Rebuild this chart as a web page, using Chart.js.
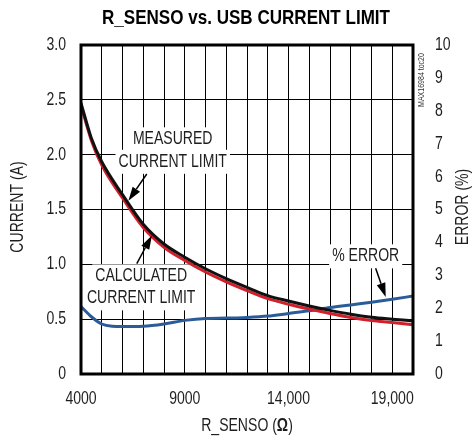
<!DOCTYPE html>
<html>
<head>
<meta charset="utf-8">
<script src="https://cdn.jsdelivr.net/npm/chart.js@4.4.1/dist/chart.umd.min.js"></script>
<style>
  html, body { margin: 0; padding: 0; background: #fff; }
  #wrap { width: 474px; height: 439px; }
</style>
</head>
<body>
<div id="wrap"><canvas id="chart" width="474" height="439"></canvas></div>
<script>
// values
const rSense = [4000, 4500, 5000, 6000, 7000, 8000, 9000, 10000, 11000, 12000,
    13000, 14000, 15000, 16000, 17000, 18000, 19000, 20000];
const measuredCurrent = [2.47, 2.15, 1.935, 1.635, 1.365, 1.185, 1.065, 0.96, 0.87, 0.79,
    0.715, 0.665, 0.62, 0.58, 0.545, 0.518, 0.50, 0.484];
const calculatedCurrent = [2.45, 2.13, 1.905, 1.605, 1.335, 1.155, 1.035, 0.93, 0.84, 0.76,
    0.687, 0.636, 0.592, 0.552, 0.516, 0.488, 0.47, 0.45];

const errorRsense = [4000, 4500, 5000, 5500, 6000, 7000, 8000, 9000, 10000, 11000, 12000,
    13000, 14000, 15000, 16000, 17000, 18000, 19000, 20000];
const errorPercent = [2.05, 1.74, 1.52, 1.45, 1.44, 1.45, 1.52, 1.63, 1.69, 1.70, 1.72,
    1.76, 1.84, 1.92, 2.02, 2.10, 2.18, 2.27, 2.37];

const xTickLabels = {4000: "4000", 9000: "9000", 14000: "14,000", 19000: "19,000"};

// condensed look: Liberation Sans squeezed horizontally
const FONT = '"Liberation Sans", Arial, sans-serif';
const SQUEEZE = 0.78;
const INK = "#1e1e1e";

// callouts, placed in data units (x = ohms, y = amps)
const callouts = [
    {lines: ["MEASURED", "CURRENT LIMIT"], x: 8420, y: [2.14, 1.935],
     arrow: {from: [7170, 1.824], to: [6285, 1.58]}},
    {lines: ["CALCULATED", "CURRENT LIMIT"], x: 6900, y: [0.89, 0.69],
     arrow: {from: [6690, 1.006], to: [7415, 1.264]}},
    {lines: ["% ERROR"], x: 17720, y: [1.073],
     arrow: {from: [18200, 0.964], to: [18685, 0.703]}}
];

const toPts = (xs, ys) => xs.map((x, i) => ({x, y: ys[i]}));

function textWidth(ctx, t, size, bold, sx) {
    ctx.font = (bold ? "bold " : "") + size + "px " + FONT;
    return ctx.measureText(t).width * sx;
}

function drawText(ctx, t, x, y, opt) {
    const o = Object.assign({size: 18, bold: false, sx: SQUEEZE, align: "center", rot: 0, color: INK}, opt);
    ctx.save();
    ctx.translate(x, y);
    if (o.rot) ctx.rotate(o.rot);
    ctx.scale(o.sx, 1);
    ctx.font = (o.bold ? "bold " : "") + o.size + "px " + FONT;
    ctx.fillStyle = o.color;
    ctx.textAlign = o.align;
    ctx.textBaseline = "middle";
    ctx.fillText(t, 0, 0);
    ctx.restore();
}

function drawArrow(ctx, x1, y1, x2, y2) {
    const ang = Math.atan2(y2 - y1, x2 - x1);
    const len = 14, half = 4.5;
    const bx = x2 - Math.cos(ang) * len, by = y2 - Math.sin(ang) * len;
    ctx.strokeStyle = "#000";
    ctx.lineWidth = 1.5;
    ctx.beginPath();
    ctx.moveTo(x1, y1);
    ctx.lineTo(bx, by);
    ctx.stroke();
    ctx.fillStyle = "#000";
    ctx.beginPath();
    ctx.moveTo(x2, y2);
    ctx.lineTo(bx - Math.sin(ang) * half, by + Math.cos(ang) * half);
    ctx.lineTo(bx + Math.sin(ang) * half, by - Math.cos(ang) * half);
    ctx.closePath();
    ctx.fill();
}

const decor = {
    id: "decor",
    beforeDatasetsDraw(chart) {
        // white boxes behind the callout text, covering the grid
        const {ctx, scales: {x, y}} = chart;
        ctx.save();
        callouts.forEach(c => {
            c.lines.forEach((t, i) => {
                const w = textWidth(ctx, t, 18, false, SQUEEZE);
                const cx = x.getPixelForValue(c.x), cy = y.getPixelForValue(c.y[i]);
                ctx.fillStyle = "#fff";
                ctx.fillRect(cx - w / 2 - 3, cy - 12, w + 6, 24);
            });
        });
        ctx.restore();
    },
    afterDraw(chart) {
        const {ctx, chartArea: a, scales: {x, y, y2}} = chart;
        ctx.save();

        // frame
        ctx.strokeStyle = "#000";
        ctx.lineWidth = 3;
        ctx.strokeRect(a.left, a.top, a.right - a.left, a.bottom - a.top);

        // tick labels, from the scales' own ticks
        y.ticks.forEach(t => {
            drawText(ctx, t.value === 0 ? "0" : t.value.toFixed(1), a.left - 15,
                y.getPixelForValue(t.value), {align: "right"});
        });
        y2.ticks.forEach(t => {
            drawText(ctx, String(t.value), a.right + 22, y2.getPixelForValue(t.value), {align: "left"});
        });
        x.ticks.forEach(t => {
            const lab = xTickLabels[t.value];
            if (lab) drawText(ctx, lab, x.getPixelForValue(t.value), 399);
        });

        // callouts
        callouts.forEach(c => {
            c.lines.forEach((t, i) => {
                drawText(ctx, t, x.getPixelForValue(c.x), y.getPixelForValue(c.y[i]));
            });
            drawArrow(ctx,
                x.getPixelForValue(c.arrow.from[0]), y.getPixelForValue(c.arrow.from[1]),
                x.getPixelForValue(c.arrow.to[0]), y.getPixelForValue(c.arrow.to[1]));
        });

        // title, fitted to the reference width
        const title = "R_SENSO vs. USB CURRENT LIMIT";
        const tw = textWidth(ctx, title, 21, true, 1);
        drawText(ctx, title, 246, 18, {size: 21, bold: true, sx: 288 / tw, color: "#000"});

        // x axis title with bold omega
        const p1 = "R_SENSO (", p2 = "\u03A9", p3 = ")";
        const w1 = textWidth(ctx, p1, 18, false, SQUEEZE);
        const w2 = textWidth(ctx, p2, 18, true, SQUEEZE);
        const w3 = textWidth(ctx, p3, 18, false, SQUEEZE);
        const sx = 247 - (w1 + w2 + w3) / 2;
        drawText(ctx, p1, sx, 426, {align: "left"});
        drawText(ctx, p2, sx + w1, 426, {align: "left", bold: true});
        drawText(ctx, p3, sx + w1 + w2, 426, {align: "left"});

        // rotated axis titles
        drawText(ctx, "CURRENT (A)", 18, 207, {rot: -Math.PI / 2});
        drawText(ctx, "ERROR (%)", 463, 207, {rot: -Math.PI / 2});

        // figure tag
        drawText(ctx, "MAX16984 toc20", 422, 80, {rot: -Math.PI / 2, size: 9, color: "#333"});

        ctx.restore();
    }
};

new Chart(document.getElementById("chart"), {
    type: "line",
    data: {
        datasets: [
            {
                label: "Measured current limit",
                data: toPts(rSense, measuredCurrent),
                yAxisID: "y",
                borderColor: "#111",
                borderWidth: 3,
                pointRadius: 0,
                cubicInterpolationMode: "monotone"
            },
            {
                label: "Calculated current limit",
                data: toPts(rSense, calculatedCurrent),
                yAxisID: "y",
                borderColor: "#d1202b",
                borderWidth: 3,
                pointRadius: 0,
                cubicInterpolationMode: "monotone"
            },
            {
                label: "% error",
                data: toPts(errorRsense, errorPercent),
                yAxisID: "y2",
                borderColor: "#2b5c98",
                borderWidth: 3,
                pointRadius: 0,
                cubicInterpolationMode: "monotone"
            }
        ]
    },
    options: {
        responsive: false,
        animation: false,
        layout: {padding: {top: 45, left: 0, right: 0, bottom: 0}},
        plugins: {
            legend: {display: false},
            tooltip: {enabled: false}
        },
        scales: {
            x: {
                type: "linear",
                min: 4000,
                max: 20000,
                ticks: {stepSize: 1000, autoSkip: false, display: false},
                grid: {color: "#000", lineWidth: 1, drawTicks: false},
                border: {display: false},
                afterFit: s => { s.height = 65; }
            },
            y: {
                position: "left",
                min: 0,
                max: 3,
                ticks: {stepSize: 0.5, display: false},
                grid: {color: "#000", lineWidth: 1, drawTicks: false},
                border: {display: false},
                afterFit: s => { s.width = 81; }
            },
            y2: {
                position: "right",
                min: 0,
                max: 10,
                ticks: {stepSize: 1, display: false},
                grid: {display: false, drawTicks: false},
                border: {display: false},
                afterFit: s => { s.width = 61; }
            }
        }
    },
    plugins: [decor]
});
</script>
</body>
</html>
